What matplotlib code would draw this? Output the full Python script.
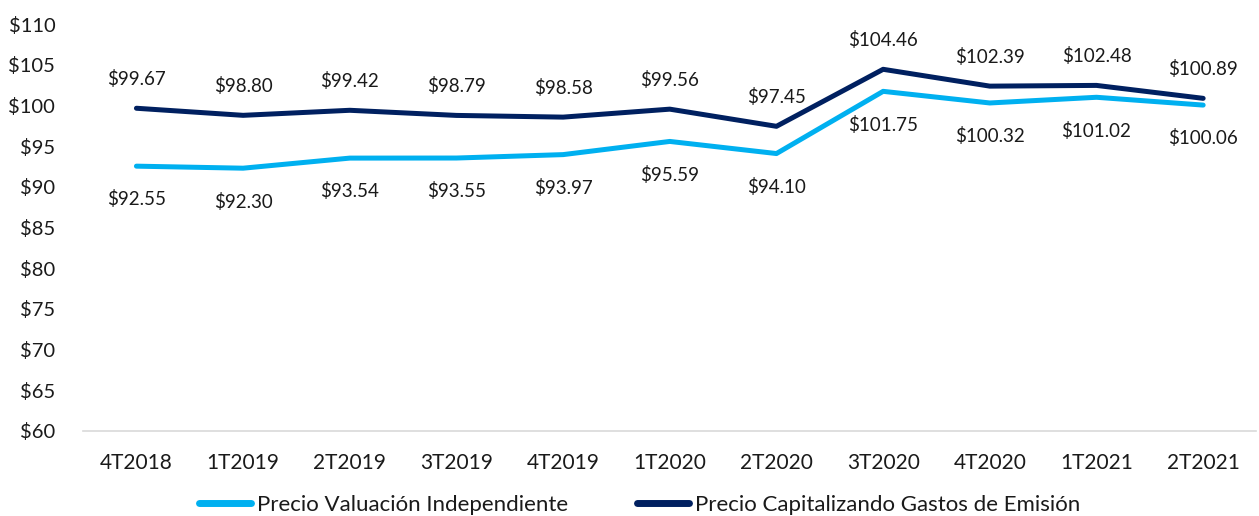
import matplotlib
matplotlib.use("Agg")
import matplotlib.pyplot as plt
from matplotlib.ticker import FuncFormatter, MultipleLocator

categories = ["4T2018", "1T2019", "2T2019", "3T2019", "4T2019", "1T2020",
              "2T2020", "3T2020", "4T2020", "1T2021", "2T2021"]
valuacion = [92.55, 92.30, 93.54, 93.55, 93.97, 95.59, 94.10, 101.75, 100.32, 101.02, 100.06]
capitalizando = [99.67, 98.80, 99.42, 98.79, 98.58, 99.56, 97.45, 104.46, 102.39, 102.48, 100.89]
series_names = ["Precio Valuación Independiente", "Precio Capitalizando Gastos de Emisión"]

plt.rcParams["font.family"] = ["Lato", "DejaVu Sans"]

fig = plt.figure(figsize=(12.59, 5.16), dpi=100)
ax = fig.add_axes([0.066, 0.165, 0.932, 0.788])

light = "#00B0F0"
dark = "#002060"
x = list(range(len(categories)))
ax.plot(x, valuacion, color=light, lw=3.6, solid_capstyle="round", label=series_names[0])
ax.plot(x, capitalizando, color=dark, lw=3.6, solid_capstyle="round", label=series_names[1])

for xi, v in zip(x, valuacion):
    ax.annotate(f"${v:.2f}", (xi, v), xytext=(0, -24), textcoords="offset points",
                ha="center", va="center", fontsize=13.5, color="#1a1a1a")
for xi, v in zip(x, capitalizando):
    ax.annotate(f"${v:.2f}", (xi, v), xytext=(0, 21), textcoords="offset points",
                ha="center", va="center", fontsize=13.5, color="#1a1a1a")

ax.set_xlim(-0.5, len(categories) - 0.5)
ax.set_ylim(60, 110)
ax.yaxis.set_major_locator(MultipleLocator(5))
ax.yaxis.set_major_formatter(FuncFormatter(lambda v, p: f"${v:.0f}"))
ax.set_xticks(x)
ax.set_xticklabels(categories)
ax.tick_params(axis="y", length=0, pad=20, labelsize=14.5, labelcolor="#1a1a1a")
ax.tick_params(axis="x", length=0, pad=16, labelsize=15, labelcolor="#1a1a1a")
for s in ["top", "right", "left"]:
    ax.spines[s].set_visible(False)
ax.spines["bottom"].set_color("#d9d9d9")
ax.spines["bottom"].set_linewidth(1.2)

leg = fig.legend(loc="center", bbox_to_anchor=(0.508, 0.022), ncol=2, frameon=False,
                 fontsize=16, handlelength=2.35, columnspacing=3.1, handletextpad=0.25,
                 labelcolor="#1a1a1a")
for line in leg.get_lines():
    line.set_linewidth(5)
    line.set_solid_capstyle("round")

fig.savefig("out.png", dpi=100)
